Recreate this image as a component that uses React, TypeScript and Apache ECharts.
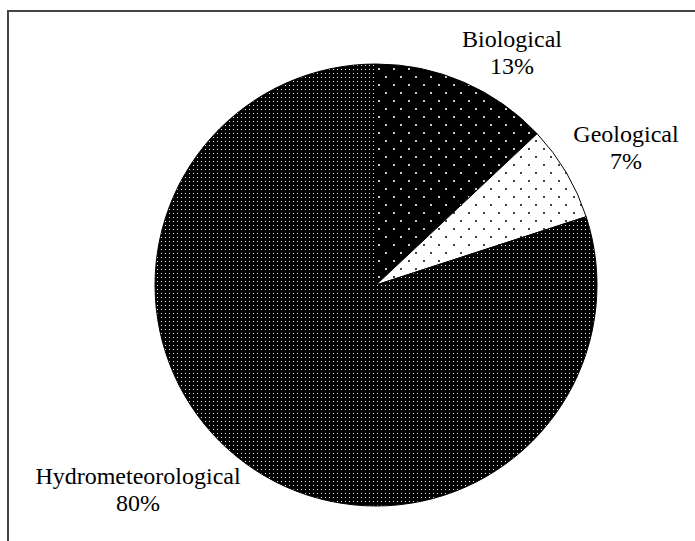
import React, { useEffect, useRef } from "react";
import * as echarts from "echarts";

const categories = ["Biological", "Geological", "Hydrometeorological"];
const values = [13, 7, 80];
const percentLabels = ["13%", "7%", "80%"];

function makePattern(bg: string, dot: string, w: number, h: number, dots: number[][], s: number) {
  const c = document.createElement("canvas");
  c.width = w;
  c.height = h;
  const ctx = c.getContext("2d")!;
  ctx.fillStyle = bg;
  ctx.fillRect(0, 0, w, h);
  ctx.fillStyle = dot;
  dots.forEach(([x, y]) => {
    ctx.fillRect(x, y, s, s);
  });
  return { image: c, repeat: "repeat" as const };
}

export default function App() {
  const ref = useRef<HTMLDivElement>(null);
  useEffect(() => {
    if (!ref.current) return;
    const chart = echarts.init(ref.current, null, { renderer: "svg" });
    const patterns = [
      makePattern("#000", "#c8c8c8", 15, 16, [[3, 4], [10, 12]], 2),
      makePattern("#fff", "#444", 15, 16, [[3, 4], [10, 12]], 2),
      makePattern("#000", "#f0f0f0", 4, 4, [[1, 1]], 1),
    ];
    const labelPos = [
      [512, 52],
      [626, 147],
      [138, 489],
    ];
    chart.setOption({
      animation: false,
      backgroundColor: "#fff",
      textStyle: { fontFamily: "'Liberation Serif', serif" },
      graphic: [
        {
          type: "rect",
          shape: { x: 8, y: 11, width: 720, height: 560 },
          style: { fill: "none", stroke: "#444", lineWidth: 2 },
          silent: true,
        },
      ],
      series: [
        {
          type: "pie",
          center: [376, 285],
          radius: 221,
          startAngle: 90,
          clockwise: true,
          avoidLabelOverlap: false,
          itemStyle: { borderColor: "#000", borderWidth: 1 },
          label: {
            show: true,
            position: "outside",
            fontFamily: "'Liberation Serif', serif",
            fontSize: 24,
            lineHeight: 27,
            color: "#000",
            align: "center",
            formatter: (p: any) => `${p.name}\n${percentLabels[p.dataIndex]}`,
          },
          labelLine: { show: false },
          labelLayout: (p: any) => ({
            x: labelPos[p.dataIndex][0],
            y: labelPos[p.dataIndex][1],
            align: "center",
            verticalAlign: "middle",
          }),
          emphasis: { disabled: true },
          data: categories.map((name, i) => ({
            name,
            value: values[i],
            itemStyle: { color: patterns[i] },
          })),
        },
      ],
    });
    return () => chart.dispose();
  }, []);
  return (
    <div
      ref={ref}
      style={{ position: "fixed", left: 0, top: 0, width: 695, height: 541 }}
    />
  );
}
